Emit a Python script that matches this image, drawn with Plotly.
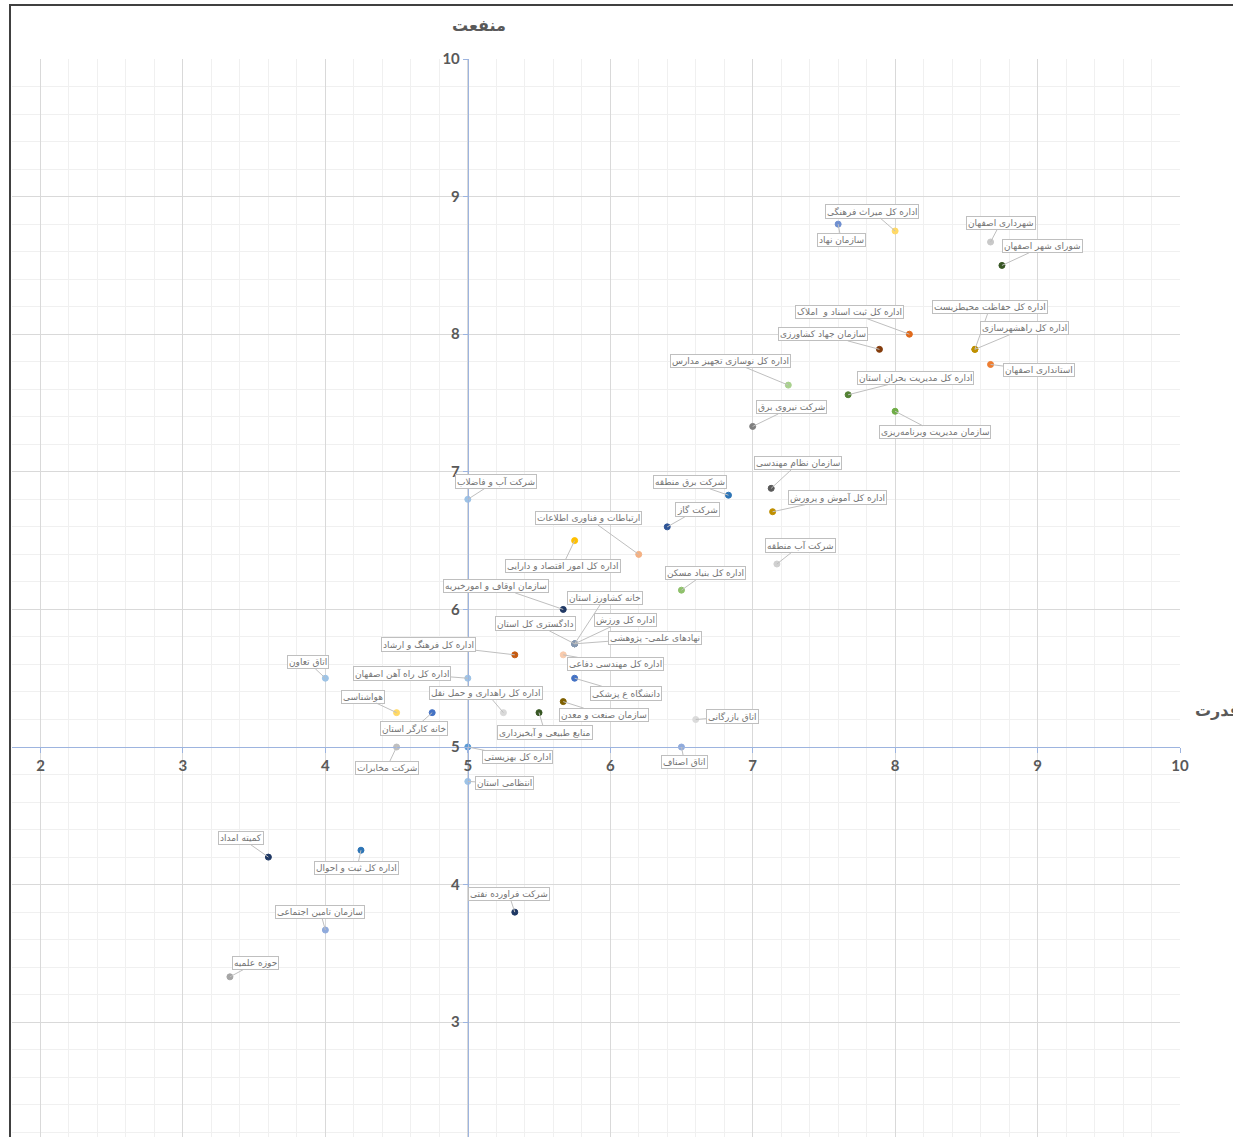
import plotly.graph_objects as go

# ---------------- data ----------------
names = [
    "سازمان نهاد", "اداره کل میراث فرهنگی", "شهرداری اصفهان", "شورای شهر اصفهان",
    "اداره کل ثبت اسناد و  املاک", "سازمان جهاد کشاورزی", "اداره کل حفاظت محیطزیست",
    "اداره کل راهشهرسازی", "استانداری اصفهان", "اداره کل نوسازی تجهیز مدارس",
    "اداره کل مدیریت بحران استان", "سازمان مدیریت وبرنامه‌ریزی", "شرکت نیروی برق",
    "سازمان نظام مهندسی", "شرکت برق منطقه", "اداره کل آموش و پرورش", "شرکت گاز",
    "ارتباطات و فناوری اطلاعات", "اداره کل امور اقتصاد و دارایی", "شرکت آب منطقه",
    "اداره کل بنیاد مسکن", "شرکت آب و فاضلاب", "سازمان اوقاف و امورخیریه",
    "خانه کشاورز استان", "دادگستری کل استان", "اداره کل ورزش", "نهادهای علمی- پژوهشی",
    "اداره کل مهندسی دفاعی", "اداره کل فرهنگ و ارشاد", "اتاق تعاون",
    "اداره کل راه آهن اصفهان", "دانشگاه ع پزشکی", "هواشناسی", "خانه کارگر استان",
    "اداره کل راهداری و حمل نقل", "منابع طبیعی و آبخیزداری", "سازمان صنعت و معدن",
    "اتاق بازرگانی", "شرکت مخابرات", "اداره کل بهزیستی", "اتاق اصناف", "انتظامی استان",
    "کمیته امداد", "اداره کل ثبت و احوال", "شرکت فراورده نفتی", "سازمان تامین اجتماعی",
    "حوزه علمیه",
]
power = [  # قدرت (x)
    7.60, 8.00, 8.67, 8.75, 8.10, 7.89, 8.56, 8.56, 8.67, 7.25,
    7.67, 8.00, 7.00, 7.13, 6.83, 7.14, 6.40, 6.20, 5.75, 7.17,
    6.50, 5.00, 5.67, 5.75, 5.75, 5.75, 5.75, 5.67, 5.33, 4.00,
    5.00, 5.75, 4.50, 4.75, 5.25, 5.50, 5.67, 6.60, 4.50, 5.00,
    6.50, 5.00, 3.60, 4.25, 5.33, 4.00, 3.33,
]
benefit = [  # منفعت (y)
    8.80, 8.75, 8.67, 8.50, 8.00, 7.89, 7.89, 7.89, 7.78, 7.63,
    7.56, 7.44, 7.33, 6.88, 6.83, 6.71, 6.60, 6.40, 6.50, 6.33,
    6.14, 6.80, 6.00, 5.75, 5.75, 5.75, 5.75, 5.67, 5.67, 5.50,
    5.50, 5.50, 5.25, 5.25, 5.25, 5.25, 5.33, 5.20, 5.00, 5.00,
    5.00, 4.75, 4.20, 4.25, 3.80, 3.67, 3.33,
]
x_ticks = [2, 3, 4, 5, 6, 7, 8, 9, 10]
y_ticks = [3, 4, 5, 6, 7, 8, 9, 10]

# ---------------- styles ----------------
colors = [
    "#6F8FD0", "#FFD966", "#C9C9C9", "#375623", "#E06A1B", "#843C0C", "#BF9000",
    "#BF9000", "#ED7D31", "#A9D18E", "#548235", "#70AD47", "#7F7F7F", "#595959",
    "#2E75B6", "#BF8F00", "#2F5597", "#F4B183", "#FFC000", "#D0D0D0", "#8FC16B",
    "#9DC3E6", "#203864", "#8497B0", "#8497B0", "#8497B0", "#8497B0", "#F8CBAD",
    "#C55A11", "#9DC3E6", "#9DC3E6", "#4472C4", "#FFD966", "#4472C4", "#D9D9D9",
    "#375623", "#7F6000", "#DBDBDB", "#BFBFBF", "#5B9BD5", "#8FAADC", "#9DC3E6",
    "#1F3864", "#2E75B6", "#1F3864", "#8FAADC", "#A5A5A5",
]
# label offsets in pixels (dx right, dy down) from the point to the label centre
label_off = [
    (3, 16), (-23, -20), (10, -19), (41, -19), (-60, -22), (-56, -15), (15, -42),
    (50, -21), (48, 6), (-58, -24), (67, -17), (40, 21), (39, -19), (27, -25),
    (-38, -13), (65, -14), (30, -17), (-50, -36), (-12, 25), (24, -19), (24, -17),
    (28, -18), (-67, -23), (30, -46), (-39, -20), (51, -24), (80, -6), (52, 9),
    (-86, -10), (-17, -16), (-66, -5), (51, 15), (-34, -16), (-18, 16), (-17, -20),
    (6, 20), (41, 13), (37, -3), (-10, 21), (50, 10), (3, 15), (37, 2),
    (-27, -19), (-4, 18), (-6, -18), (-5, -18), (26, -14),
]

X_RANGE = [1.8, 10]
Y_RANGE = [2.166, 10]
xpos = (5 - X_RANGE[0]) / (X_RANGE[1] - X_RANGE[0])
ypos = (5 - Y_RANGE[0]) / (Y_RANGE[1] - Y_RANGE[0])

AXIS_BLUE = "#9DB4DF"
TICK_FONT = dict(family="Lato, DejaVu Sans, sans-serif", size=15, color="#595959", weight="bold")
TITLE_FONT = dict(family="DejaVu Sans, sans-serif", size=16, color="#595959", weight="bold")

fig = go.Figure()
fig.add_trace(go.Scatter(
    x=power, y=benefit, mode="markers", text=names, hoverinfo="text",
    marker=dict(size=6, color=colors, line=dict(color=colors, width=1)),
    showlegend=False, cliponaxis=False,
))

annotations = []
for n, xv, yv, (dx, dy) in zip(names, power, benefit, label_off):
    annotations.append(dict(
        x=xv, y=yv, xref="x", yref="y", text=n, showarrow=True,
        ax=dx, ay=dy, arrowhead=0, arrowwidth=1, arrowcolor="#BFBFBF", standoff=0,
        bgcolor="white", bordercolor="#BFBFBF", borderwidth=1, borderpad=1,
        font=dict(family="DejaVu Sans, sans-serif", size=9, color="#737373"),
    ))

annotations.append(dict(
    x=xpos + 0.01, y=1.0 + 34 / 1078, xref="paper", yref="paper", text="منفعت",
    showarrow=False, xanchor="center", yanchor="middle", font=TITLE_FONT,
))
annotations.append(dict(
    x=1.0 + 13 / 1168, y=ypos + 37 / 1078, xref="paper", yref="paper", text="قدرت",
    showarrow=False, xanchor="left", yanchor="middle", font=TITLE_FONT,
))

fig.update_layout(
    width=1233, height=1137,
    margin=dict(l=12, r=53, t=59, b=0, autoexpand=False),
    paper_bgcolor="white", plot_bgcolor="white",
    annotations=annotations,
    xaxis=dict(
        range=X_RANGE, tickvals=x_ticks, ticktext=[str(t) for t in x_ticks],
        anchor="free", position=ypos, side="bottom",
        showline=True, linecolor=AXIS_BLUE, linewidth=1,
        ticks="outside", ticklen=5, tickcolor=AXIS_BLUE,
        tickfont=TICK_FONT, zeroline=False,
        showgrid=True, gridcolor="#D9D9D9", gridwidth=1,
        minor=dict(dtick=0.2, tick0=0, showgrid=True, gridcolor="#F0F0F0", gridwidth=1),
        automargin=False,
    ),
    yaxis=dict(
        range=Y_RANGE, tickvals=y_ticks, ticktext=[str(t) for t in y_ticks],
        anchor="free", position=xpos, side="left",
        showline=True, linecolor=AXIS_BLUE, linewidth=1,
        ticks="outside", ticklen=5, tickcolor=AXIS_BLUE,
        tickfont=TICK_FONT, zeroline=False,
        showgrid=True, gridcolor="#D9D9D9", gridwidth=1,
        minor=dict(dtick=0.2, tick0=0, showgrid=True, gridcolor="#F0F0F0", gridwidth=1),
        automargin=False,
    ),
    shapes=[dict(
        type="rect", xref="paper", yref="paper",
        x0=-2 / 1168, x1=1.2, y0=-0.2, y1=1.0 + 54 / 1078,
        line=dict(color="#404040", width=2), fillcolor="rgba(0,0,0,0)", layer="above",
    )],
)

fig.write_html(
    "out.html",
    config={"displayModeBar": False},
    post_script="document.body.style.margin='0px';document.body.style.overflow='hidden';",
)
